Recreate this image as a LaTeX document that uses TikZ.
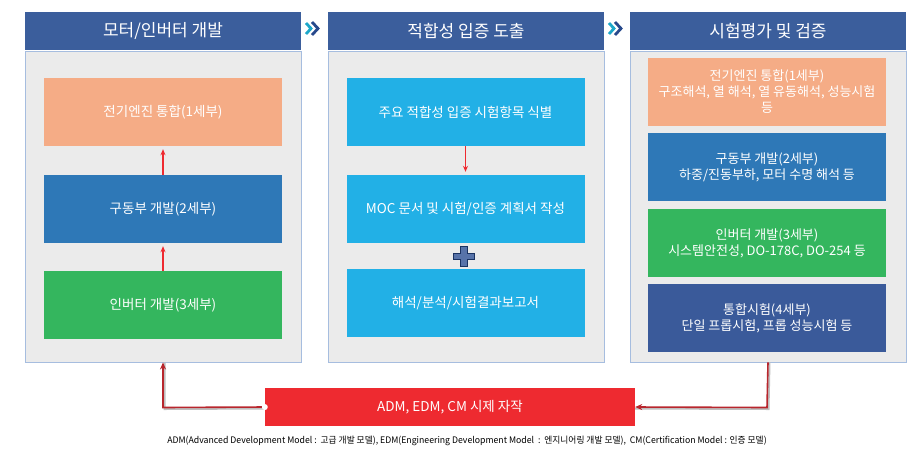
\documentclass[tikz,border=0pt]{standalone}
\usepackage{fontspec}
\setmainfont{Noto Sans CJK KR}
\usetikzlibrary{arrows.meta}
\definecolor{hdr}{HTML}{3B5E9C}
\definecolor{pnl}{HTML}{EBEBEB}
\definecolor{pnlb}{HTML}{A6BDDF}
\definecolor{corg}{HTML}{F5AC86}
\definecolor{cblu}{HTML}{2E78B7}
\definecolor{cgrn}{HTML}{34B65E}
\definecolor{ccya}{HTML}{22B0E6}
\definecolor{cnav}{HTML}{3A5A9A}
\definecolor{cred}{HTML}{EE2A30}
\definecolor{dred}{HTML}{B8262D}
\definecolor{teal}{HTML}{1CA7C9}
\definecolor{navy}{HTML}{27498C}
\begin{document}
\begin{tikzpicture}[x=1pt,y=-1pt,
  hbox/.style={fill=hdr,text=white,minimum width=276pt,minimum height=38pt,inner sep=0pt,font=\fontsize{17}{20}\selectfont},
  pbox/.style={fill=pnl,draw=pnlb,line width=0.9pt,minimum width=276pt,minimum height=311pt,inner sep=0pt},
  sbox/.style={fill=#1,text=white,minimum width=238pt,minimum height=68pt,inner sep=0pt,align=center,font=\fontsize{13.5}{17}\selectfont},
  uparr/.style={draw=cred,line width=1.1pt,-{Stealth[length=6pt,width=5pt]},shorten >=3pt},
  retarr/.style={draw=dred,line width=1.6pt,-{Stealth[length=7pt,width=6pt]}},
  shad/.style={draw=black!25,line width=2pt},
  chev/.style={line width=2.8pt}]
\useasboundingbox (0,0) rectangle (915,448);
% panels
\node[pbox] (p1) at (163,206.5) {};
\node[pbox] (p2) at (466,206.5) {};
\node[pbox] (p3) at (768,206.5) {};
% headers
\node[hbox] (h1) at (163,31) {모터/인버터 개발};
\node[hbox] (h2) at (466,31) {적합성 입증 도출};
\node[hbox] (h3) at (768,31) {시험평가 및 검증};
% chevrons
\draw[chev,teal] (306,23) -- (311,28.5) -- (306,34);
\draw[chev,navy] (312,22) -- (318,28.5) -- (312,35);
\draw[chev,teal] (609,23) -- (614,28.5) -- (609,34);
\draw[chev,navy] (615,22) -- (621,28.5) -- (615,35);
% panel 1
\node[sbox=corg] (b11) at (163,112) {전기엔진 통합(1세부)};
\node[sbox=cblu] (b12) at (163,209) {구동부 개발(2세부)};
\node[sbox=cgrn] (b13) at (163,305) {인버터 개발(3세부)};
\draw[uparr] (b12) -- (b11);
\draw[uparr] (b13) -- (b12);
% panel 2
\node[sbox=ccya] (b21) at (465.5,112) {주요 적합성 입증 시험항목 식별};
\node[sbox=ccya] (b22) at (465.5,209) {MOC 문서 및 시험/인증 계획서 작성};
\node[sbox=ccya] (b23) at (465.5,303) {해석/분석/시험결과보고서};
\draw[uparr] (b21) -- (b22);
\fill[fill=cnav!85!white,draw=navy!70!black,line width=0.6pt]
  (460.5,246) -- (467.5,246) -- (467.5,253) -- (474.5,253) -- (474.5,259.5) -- (467.5,259.5)
  -- (467.5,266.5) -- (460.5,266.5) -- (460.5,259.5) -- (453.5,259.5) -- (453.5,253) -- (460.5,253) -- cycle;
% panel 3
\node[sbox=corg,font=\fontsize{13}{16}\selectfont] (b31) at (767,92) {전기엔진 통합(1세부)\\구조해석, 열 해석, 열 유동해석, 성능시험\\등};
\node[sbox=cblu,font=\fontsize{13}{16}\selectfont] (b32) at (767,167) {구동부 개발(2세부)\\하중/진동부하, 모터 수명 해석 등};
\node[sbox=cgrn,font=\fontsize{13}{16}\selectfont] (b33) at (767,243) {인버터 개발(3세부)\\시스템안전성, DO-178C, DO-254 등};
\node[sbox=cnav,font=\fontsize{13}{16}\selectfont] (b34) at (767,318) {통합시험(4세부)\\단일 프롭시험, 프롭 성능시험 등};
% red bar
\node[fill=cred,text=white,minimum width=370pt,minimum height=38pt,inner sep=0pt,font=\fontsize{13.5}{16}\selectfont] (rb) at (450,407) {ADM, EDM, CM 시제 자작};
% return arrows
\coordinate (c1) at (163,407.5);
\coordinate (c2) at (767,407.5);
\draw[shad] ([xshift=1.5pt,yshift=-1.5pt]rb.west) -- ([xshift=1.5pt,yshift=-1.5pt]c1) -- ([xshift=1.5pt]p1.south);
\draw[shad] ([xshift=1.5pt]p3.south) -- ([xshift=1.5pt,yshift=-1.5pt]c2) -- ([yshift=-1.5pt]rb.east);
\draw[retarr] (rb.west) -- (c1) -- (p1.south);
\draw[retarr] (p3.south) -- (c2) -- (rb.east);
\fill[white] (rb.west) circle (3pt);
% footer
\node[inner sep=0pt,font=\fontsize{9}{10}\selectfont] (ft) at (467,441) {\scalebox{0.97}[1]{ADM(Advanced Development Model :\ \ 고급 개발 모델), EDM(Engineering Development Model\ \ :\ \ 엔지니어링 개발 모델),\ \ CM(Certification Model : 인증 모델)}};
\end{tikzpicture}
\end{document}
